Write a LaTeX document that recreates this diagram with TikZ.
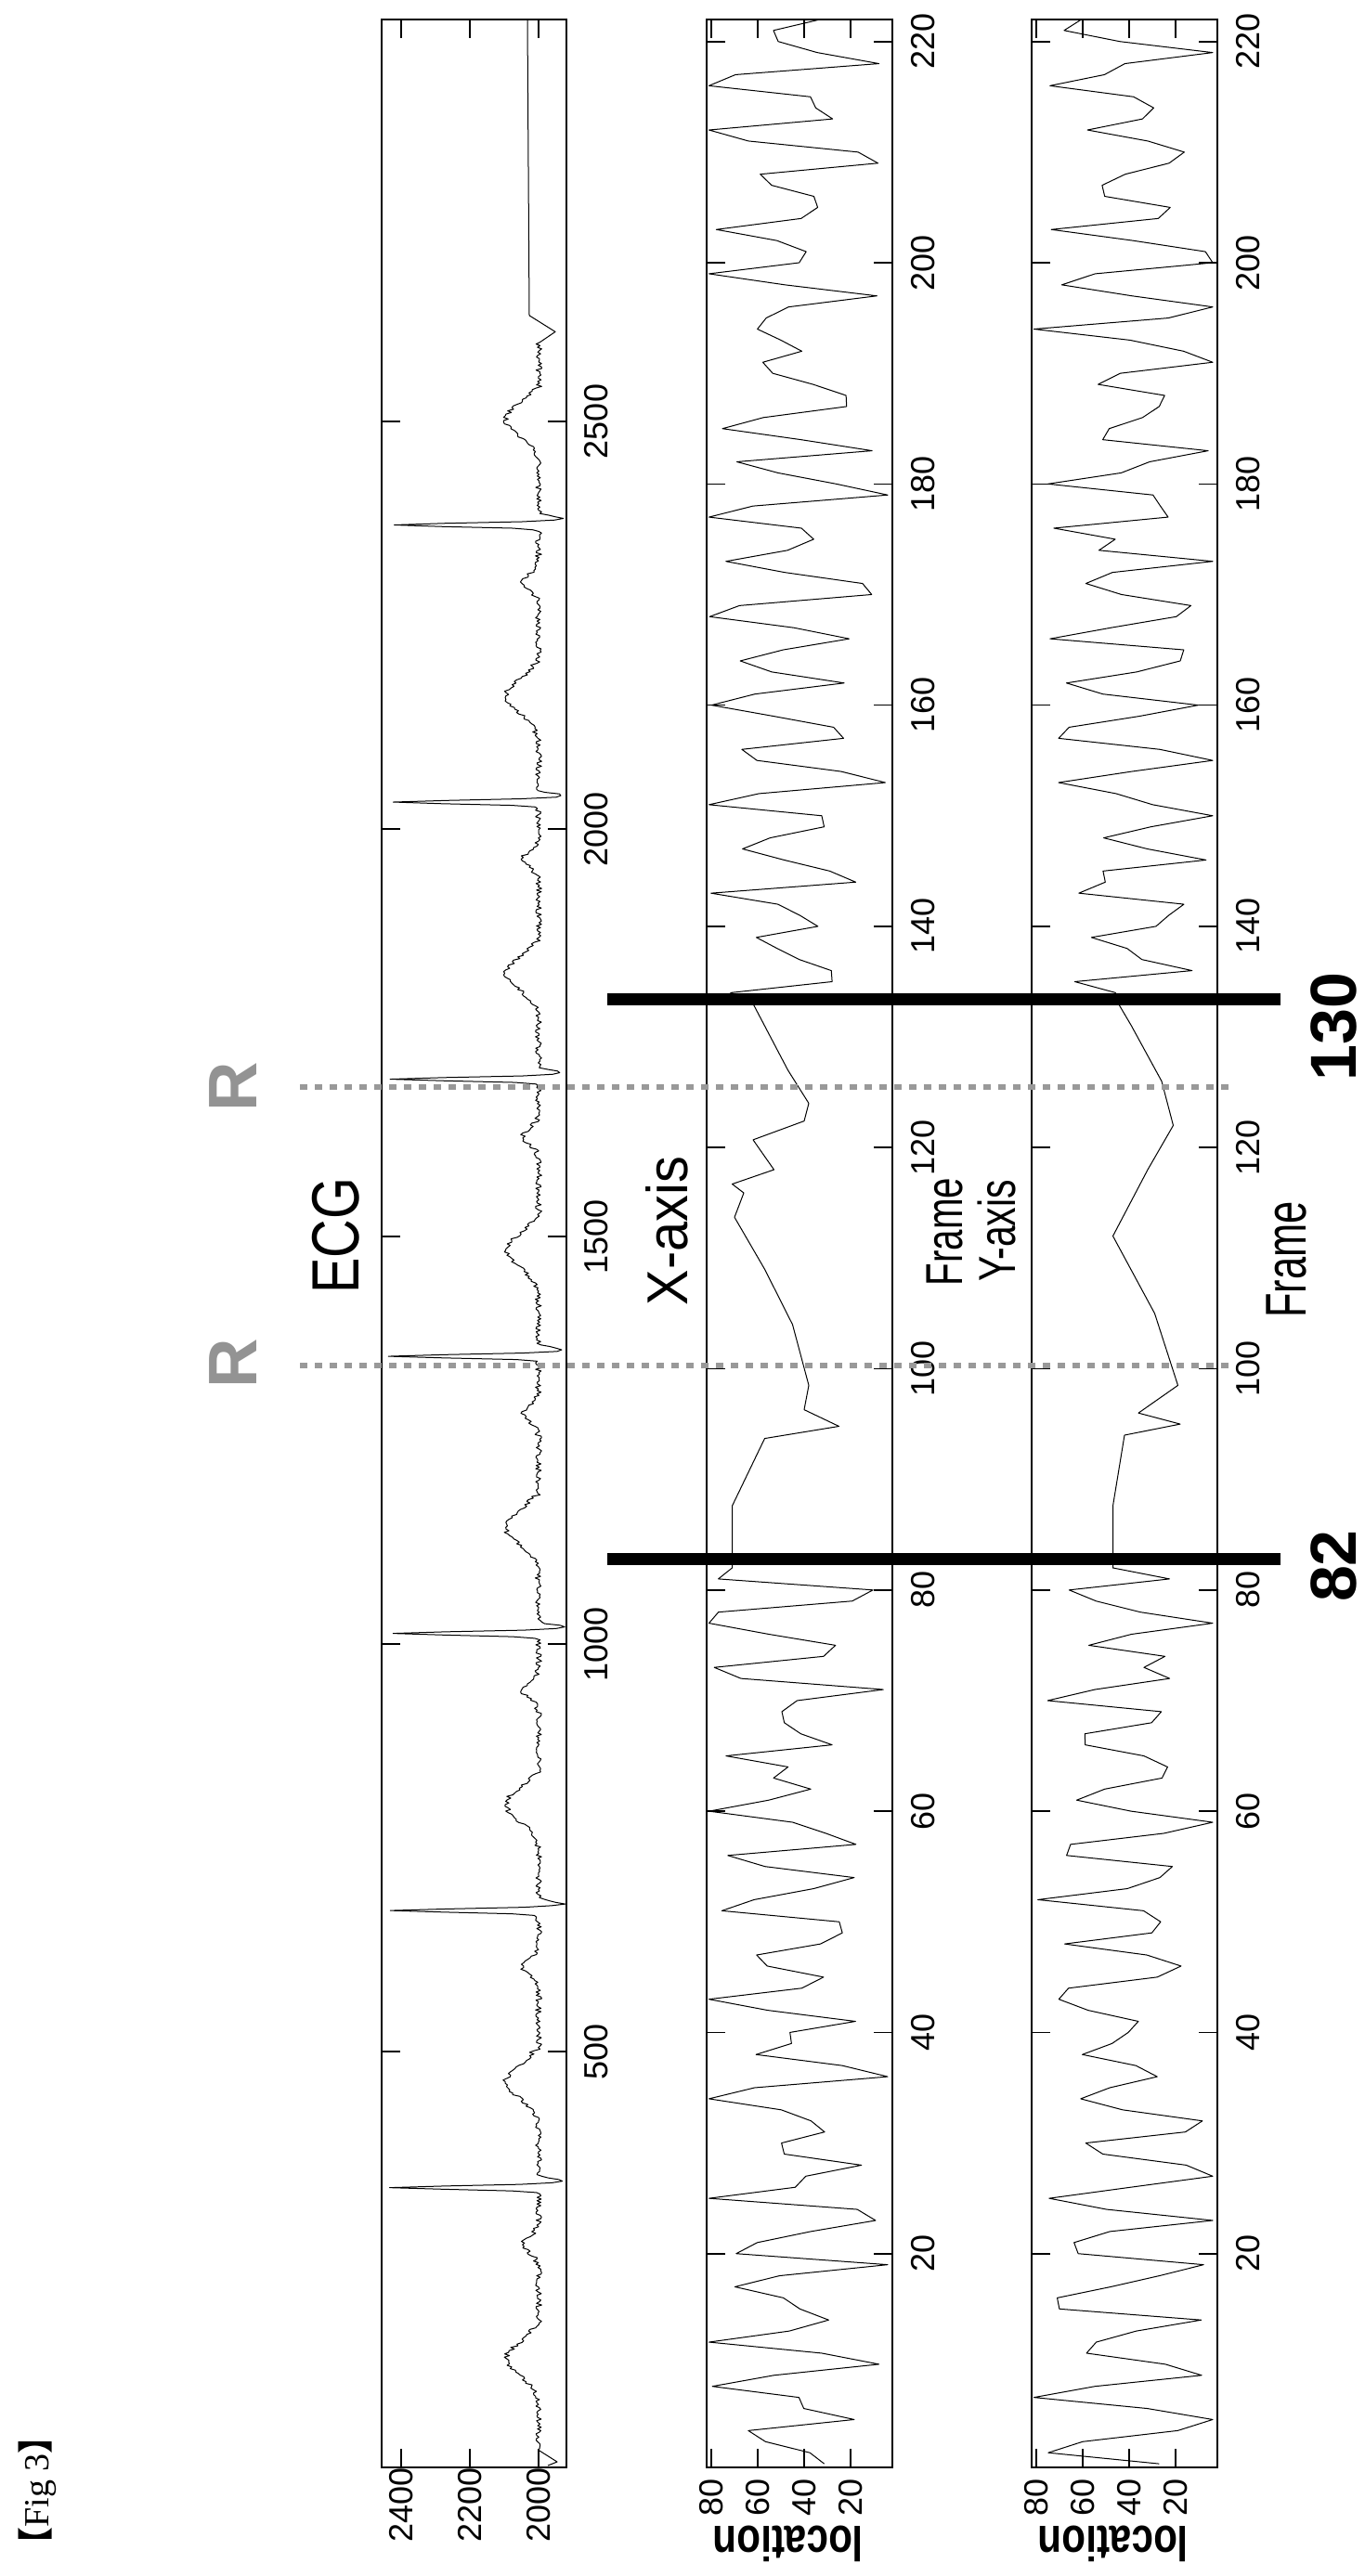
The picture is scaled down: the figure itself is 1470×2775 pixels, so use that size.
\documentclass[tikz,border=0pt]{standalone}
\usepackage{fontspec}
\setmainfont{Liberation Serif}
\setsansfont{Liberation Sans}
\newfontfamily\cjk{Noto Sans CJK SC}
\begin{document}
\begin{tikzpicture}[x=0.5pt,y=-0.5pt,
  box/.style={line width=0.8pt},
  dat/.style={line width=0.5pt,line join=round},
  tk/.style={line width=0.8pt},
  tl/.style={font=\sffamily\fontsize{18}{18}\selectfont,rotate=90,inner sep=0pt},
  lab/.style={font=\sffamily,rotate=90,inner sep=0pt},
  bar/.style={line width=6.5pt},
  rl/.style={gray!80,line width=3pt,dash pattern=on 4pt off 4pt},
  declare function={
    ph(\s)=mod(\s-333+170+3400,340)-170;
    ecg(\s)=2000+430*exp(max(-30,-(ph(\s)/3)^2))-70*exp(max(-30,-((ph(\s)-8)/4)^2))
      +95*exp(max(-30,-((ph(\s)-130)/28)^2))+45*exp(max(-30,-((ph(\s)+70)/14)^2))+9*rand;
    za(\x)=max(4,min(81,45+27*sin((\x-111)*83)+22*rand));
    zb(\x)=max(4,min(81,42+27*sin((\x-111)*79+40)+22*rand));
  }]
\pgfmathsetseed{11}
\useasboundingbox[fill=white] (0,0) rectangle (1470,2775);
% frames
\draw[box] (411,21) rectangle (610,2658);
\draw[box] (761,21) rectangle (961,2658);
\draw[box] (1111,21) rectangle (1311,2658);
% ECG
\draw[dat] (590,2656) -- (600,2652) -- plot[domain=11:2597,samples=1294,variable=\s] ({610-(ecg(\s)-1919)*0.37},{2649-0.878*\s})
  -- (598,{2649-0.878*2610}) -- (570,{2649-0.878*2630}) -- (568,21);
% ECG ticks
\foreach \s/\t in {500/500,1000/1000,1500/1500,2000/2000,2500/2500}{
  \draw[tk] (411,{2649-0.878*\s}) -- (431,{2649-0.878*\s});
  \draw[tk] (590,{2649-0.878*\s}) -- (610,{2649-0.878*\s});
  \node[tl] (et\s) at (642,{2649-0.878*\s}) {\t};}
\foreach \v in {2000,2200,2400}{
  \draw[tk] ({610-(\v-1919)*0.37},2658) -- ({610-(\v-1919)*0.37},2638);
  \draw[tk] ({610-(\v-1919)*0.37},21) -- ({610-(\v-1919)*0.37},41);
  \node[tl] (ev\v) at ({610-(\v-1919)*0.37},2698) {\v};}
% location panels
\foreach \o/\p in {0/a,350/b}{
  \foreach \f in {20,40,...,220}{
    \draw[tk] (761+\o,{2666-11.915*\f}) -- (781+\o,{2666-11.915*\f});
    \draw[tk] (941+\o,{2666-11.915*\f}) -- (961+\o,{2666-11.915*\f});
    \node[tl] (f\p\f) at (994+\o,{2666-11.915*\f}) {\f};}
  \foreach \v in {20,40,60,80}{
    \draw[tk] ({966-2.5*\v+\o},2658) -- ({966-2.5*\v+\o},2638);
    \draw[tk] ({966-2.5*\v+\o},21) -- ({966-2.5*\v+\o},41);
    \node[tl] (l\p\v) at ({966-2.5*\v+\o},2690) {\v};}
  \node[font=\sffamily\bfseries\fontsize{24}{24}\selectfont,rotate=180,inner sep=0pt] (loc\p) at (849+\o,2740) {\scalebox{0.88}[1.1]{location}};
}
% X-axis data
\draw[dat] plot[domain=1:81,samples=81] ({966-2.5*za(\x)},{2666-11.915*\x})
  -- plot coordinates {({966-2.5*71},{2666-11.915*82}) ({966-2.5*71},{2666-11.915*87.6}) ({966-2.5*57},{2666-11.915*93.7})
   ({966-2.5*25},{2666-11.915*94.8}) ({966-2.5*40},{2666-11.915*96.3}) ({966-2.5*38},{2666-11.915*98.5})
   ({966-2.5*45},{2666-11.915*104}) ({966-2.5*57},{2666-11.915*109}) ({966-2.5*70},{2666-11.915*113.7})
   ({966-2.5*66},{2666-11.915*115.9}) ({966-2.5*71},{2666-11.915*116.7}) ({966-2.5*53},{2666-11.915*118})
   ({966-2.5*62},{2666-11.915*120.7}) ({966-2.5*40},{2666-11.915*122.4}) ({966-2.5*38},{2666-11.915*124})
   ({966-2.5*47},{2666-11.915*127}) ({966-2.5*57},{2666-11.915*131}) ({966-2.5*62},{2666-11.915*133})}
  -- plot[domain=134:222,samples=89] ({966-2.5*za(\x)},{2666-11.915*\x});
% Y-axis data
\draw[dat] plot[domain=1:81,samples=81] ({1316-2.5*zb(\x)},{2666-11.915*\x})
  -- plot coordinates {({1316-2.5*47},{2666-11.915*82}) ({1316-2.5*47},{2666-11.915*87.6}) ({1316-2.5*42},{2666-11.915*94})
   ({1316-2.5*18},{2666-11.915*95}) ({1316-2.5*36},{2666-11.915*96}) ({1316-2.5*19},{2666-11.915*98.5})
   ({1316-2.5*29},{2666-11.915*105}) ({1316-2.5*47},{2666-11.915*112}) ({1316-2.5*32},{2666-11.915*118})
   ({1316-2.5*21},{2666-11.915*122}) ({1316-2.5*26},{2666-11.915*126}) ({1316-2.5*39},{2666-11.915*131})
   ({1316-2.5*46},{2666-11.915*133.5})}
  -- plot[domain=134:222,samples=89] ({1316-2.5*zb(\x)},{2666-11.915*\x});
% R lines and bars
\coordinate (r1a) at (323,1471); \coordinate (r1b) at (1326,1471);
\coordinate (r2a) at (323,1171); \coordinate (r2b) at (1326,1171);
\draw[rl] (r1a) -- (r1b); \draw[rl] (r2a) -- (r2b);
\coordinate (b1a) at (654,1679); \coordinate (b1b) at (1379,1679);
\coordinate (b2a) at (654,1076); \coordinate (b2b) at (1379,1076);
\draw[bar] (b1a) -- (b1b); \draw[bar] (b2a) -- (b2b);
% labels
\node[lab,font=\sffamily\bfseries\fontsize{37}{37}\selectfont,text=gray!85] (R1) at (251,1469) {R};
\node[lab,font=\sffamily\bfseries\fontsize{37}{37}\selectfont,text=gray!85] (R2) at (251,1171) {R};
\node[lab,font=\sffamily\fontsize{36}{36}\selectfont] (ecgl) at (362,1331) {\scalebox{0.8}[1]{ECG}};
\node[lab,font=\sffamily\fontsize{31}{31}\selectfont] (xax) at (718,1326) {\scalebox{0.93}[1]{X-axis}};
\node[lab,font=\sffamily\fontsize{28}{28}\selectfont] (fr1) at (1017,1327) {\scalebox{0.72}[1]{Frame}};
\node[lab,font=\sffamily\fontsize{28}{28}\selectfont] (yax) at (1073,1326) {\scalebox{0.73}[1]{Y-axis}};
\node[lab,font=\sffamily\fontsize{31}{31}\selectfont] (fr2) at (1385,1357) {\scalebox{0.7}[1]{Frame}};
\node[lab,font=\sffamily\bfseries\fontsize{35}{35}\selectfont] (n82) at (1436,1687) {82};
\node[lab,font=\sffamily\bfseries\fontsize{35}{35}\selectfont] (n130) at (1436,1106) {130};
\node[lab,font=\rmfamily\fontsize{19}{19}\selectfont] (fig) at (40,2683) {{\cjk\bfseries 【}Fig 3{\cjk\bfseries 】}};
\end{tikzpicture}
\end{document}
